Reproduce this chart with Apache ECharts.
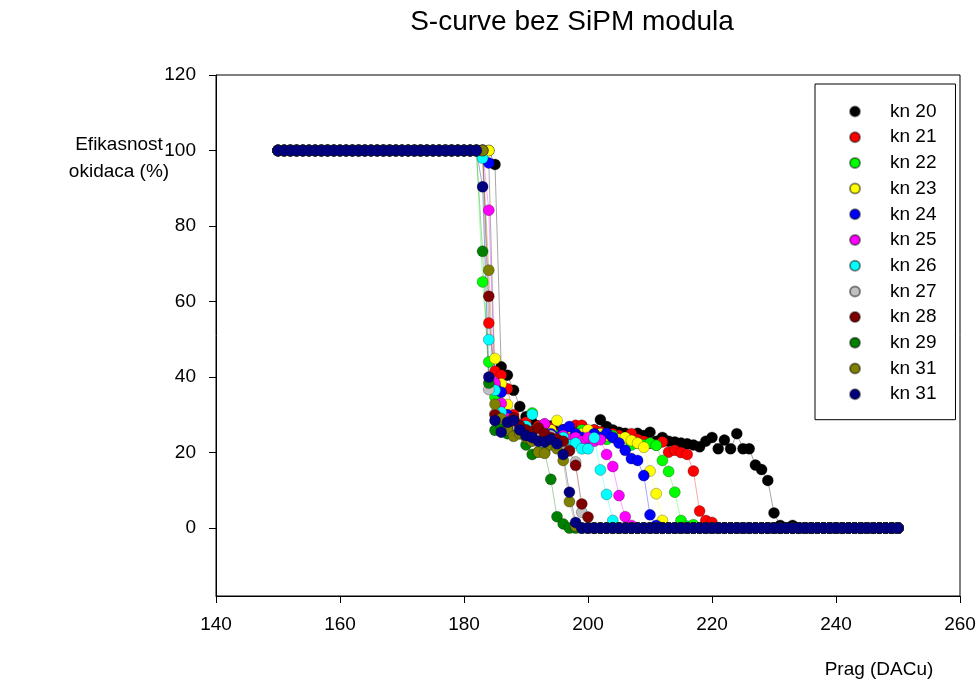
<!DOCTYPE html>
<html>
<head>
<meta charset="utf-8">
<title>S-curve bez SiPM modula</title>
<script src="https://cdn.jsdelivr.net/npm/echarts@6/dist/echarts.min.js"></script>
<style>
  html, body { margin: 0; padding: 0; background: #fff; }
  #charts { width: 980px; height: 688px; }
</style>
</head>
<body>
<div id="charts"></div>
<script>
// prag (DACu) range of the scan
const pragMin = 150;
const pragMax = 250;

// for each channel: last threshold still at 100 %, then the measured points
// until the curve reaches 0 (after that everything is 0)
const kn20 = [184, 96.3, 42.7, 40.5, 36.5, 32.2, 29.5, 28, 27, 26.5, 27, 25.5, 26, 25, 26, 27, 25.5, 26, 28.7, 26.9, 26, 25.4, 25.1, 24, 25.1, 24.5, 25.4, 23, 24, 23, 22.8, 22.5, 22.3, 22, 21.5, 23, 24, 21, 23.3, 21, 25, 21, 21, 16.7, 15.5, 12.6, 4, 0.7, 0, 0.7];
const kn21 = [183, 54.3, 41.5, 40.5, 36.9, 30, 27.5, 28, 26, 27, 25, 26.5, 25, 26, 24.5, 27.2, 27.2, 25, 26, 25.5, 24, 25, 24.5, 24, 25, 23.5, 23, 22.5, 22, 22.8, 20.1, 20.6, 20, 19.5, 15.1, 4.5, 2, 1.5];
const kn22 = [182, 65.2, 44, 34.7, 31, 29, 27, 26.5, 25.5, 30.5, 25, 24, 25, 24.5, 25.5, 24, 25, 26, 25.5, 24, 25, 23.5, 24.5, 23, 24, 22, 22.5, 22, 22.5, 21.9, 17.9, 15, 9.5, 2, 0.5, 0.9];
const kn23 = [184, 44.9, 38.2, 32.7, 29, 27, 26, 25.5, 26.5, 25, 26, 28.5, 24, 25.5, 24, 25, 26, 24, 25, 24.5, 24, 23.5, 24, 23.2, 22.5, 21.4, 15.1, 9.1, 2];
const kn24 = [183, 96.7, 37.5, 36, 30, 28, 27, 26, 25.5, 26, 27.5, 25, 24, 26, 26.9, 25, 24, 23.5, 25, 24, 25.1, 24, 22.5, 20.6, 18.4, 17.9, 13.9, 3.5, 0.7];
const kn25 = [183, 84.2, 38.4, 33, 29, 27, 26, 25, 24.5, 25.5, 27.6, 24, 23, 24.5, 23.5, 24, 23, 24, 23, 23.4, 19.5, 16.3, 8.6, 3, 0.7];
const kn26 = [182, 98, 49.9, 36.5, 30.7, 28, 27, 26, 27, 30.1, 25, 24, 23.5, 22.5, 24, 22, 22.5, 21, 21, 23.9, 15.4, 8.9, 2];
const kn27 = [183, 36.7, 30.3, 28, 27, 26, 25.5, 26, 25, 24, 25, 24.5, 23.5, 22, 20.5, 17.5, 4.2];
const kn28 = [183, 61.4, 30, 28, 26.5, 29.2, 27, 26, 25.5, 26.5, 25, 24, 23.5, 23, 20.5, 16.6, 6.4, 2.9];
const kn29 = [182, 73.3, 38.4, 25.9, 27, 25, 24.5, 25, 22, 19.5, 20.2, 20, 12.9, 3, 1.1];
const kn31a = [183, 68.3, 32.8, 29, 26, 24.3, 25, 24, 23, 20.1, 19.8, 22, 21, 17.9, 7, 0.5];
const kn31b = [182, 90.4, 40, 28.5, 25.4, 28, 28.5, 26, 24.5, 24, 23, 22.8, 23.5, 22.3, 19.5, 9.5, 1.5];

const names = ['kn 20', 'kn 21', 'kn 22', 'kn 23', 'kn 24', 'kn 25', 'kn 26', 'kn 27', 'kn 28', 'kn 29', 'kn 31', 'kn 31 '];
const colors = ['#000000', '#ff0000', '#00ff00', '#ffff00', '#0000ff', '#ff00ff', '#00ffff', '#c0c0c0', '#800000', '#008000', '#808000', '#000080'];
const curves = [kn20, kn21, kn22, kn23, kn24, kn25, kn26, kn27, kn28, kn29, kn31a, kn31b];

const yTicks = [0, 20, 40, 60, 80, 100, 120];
const font = 'Liberation Sans';

function toPoints(curve) {
    const lastFull = curve[0];
    const drop = curve.slice(1);
    const pts = [];
    for (let p = pragMin; p <= pragMax; p++) {
        let v = 0;
        if (p <= lastFull) v = 100;
        else if (p - lastFull - 1 < drop.length) v = drop[p - lastFull - 1];
        pts.push([p, v]);
    }
    return pts;
}

const series = curves.map((c, i) => ({
    name: names[i],
    type: 'line',
    data: toPoints(c),
    symbol: 'circle',
    symbolSize: 11,
    showSymbol: true,
    showAllSymbol: true,
    animation: false,
    itemStyle: {
        color: colors[i],
        borderColor: 'rgba(0,0,0,0.45)',
        borderWidth: 0.6
    },
    lineStyle: {
        color: colors[i],
        width: 1,
        opacity: 0.35
    },
    emphasis: { disabled: true }
}));

const option = {
    backgroundColor: '#fff',
    animation: false,
    title: {
        text: 'S-curve bez SiPM modula',
        left: 572,
        textAlign: 'center',
        top: 8,
        padding: 0,
        textStyle: { fontFamily: font, fontSize: 28, fontWeight: 'normal', color: '#000' }
    },
    graphic: [
        {
            type: 'text',
            x: 119,
            y: 158,
            style: {
                text: 'Efikasnost\nokidaca (%)',
                align: 'center',
                verticalAlign: 'middle',
                font: '19px "Liberation Sans"',
                lineHeight: 27,
                fill: '#000'
            }
        },
        {
            type: 'text',
            x: 879,
            y: 670,
            style: {
                text: 'Prag (DACu)',
                align: 'center',
                verticalAlign: 'middle',
                font: '19px "Liberation Sans"',
                fill: '#000'
            }
        }
    ],
    grid: {
        show: true, // okvir oko grafa
        borderColor: '#000',
        borderWidth: 1,
        backgroundColor: 'transparent',
        left: 216,
        right: 20,
        top: 75,
        bottom: 92,
        containLabel: false,
        outerBoundsMode: 'none'
    },
    legend: {
        data: names,
        orient: 'vertical',
        left: 815,
        top: 84,
        padding: [18, 19, 16, 34],
        itemWidth: 10,
        itemHeight: 10,
        itemGap: 6.7,
        icon: 'circle',
        selectedMode: false,
        backgroundColor: '#fff',
        borderColor: '#000',
        borderWidth: 1,
        formatter: name => name.trim(),
        textStyle: { fontFamily: font, fontSize: 19, color: '#000', lineHeight: 18, padding: [0, 0, 0, 25] }
    },
    xAxis: {
        type: 'value',
        min: 140,
        max: 260,
        interval: 20,
        axisLine: { show: true, onZero: false, lineStyle: { color: '#000', width: 1 } },
        axisTick: { show: true, inside: false, length: 7, lineStyle: { color: '#000' } },
        axisLabel: { fontFamily: font, fontSize: 19, color: '#000', margin: 19 },
        splitLine: { show: false }
    },
    yAxis: {
        type: 'value',
        min: -18,
        max: 120,
        axisLine: { show: true, onZero: false, lineStyle: { color: '#000', width: 1 } },
        axisTick: { show: true, inside: false, length: 7, lineStyle: { color: '#000' }, customValues: yTicks },
        axisLabel: { fontFamily: font, fontSize: 19, color: '#000', margin: 20, customValues: yTicks },
        splitLine: { show: false }
    },
    series: series
};

const chart = echarts.init(document.getElementById('charts'));
chart.setOption(option);
</script>
</body>
</html>
